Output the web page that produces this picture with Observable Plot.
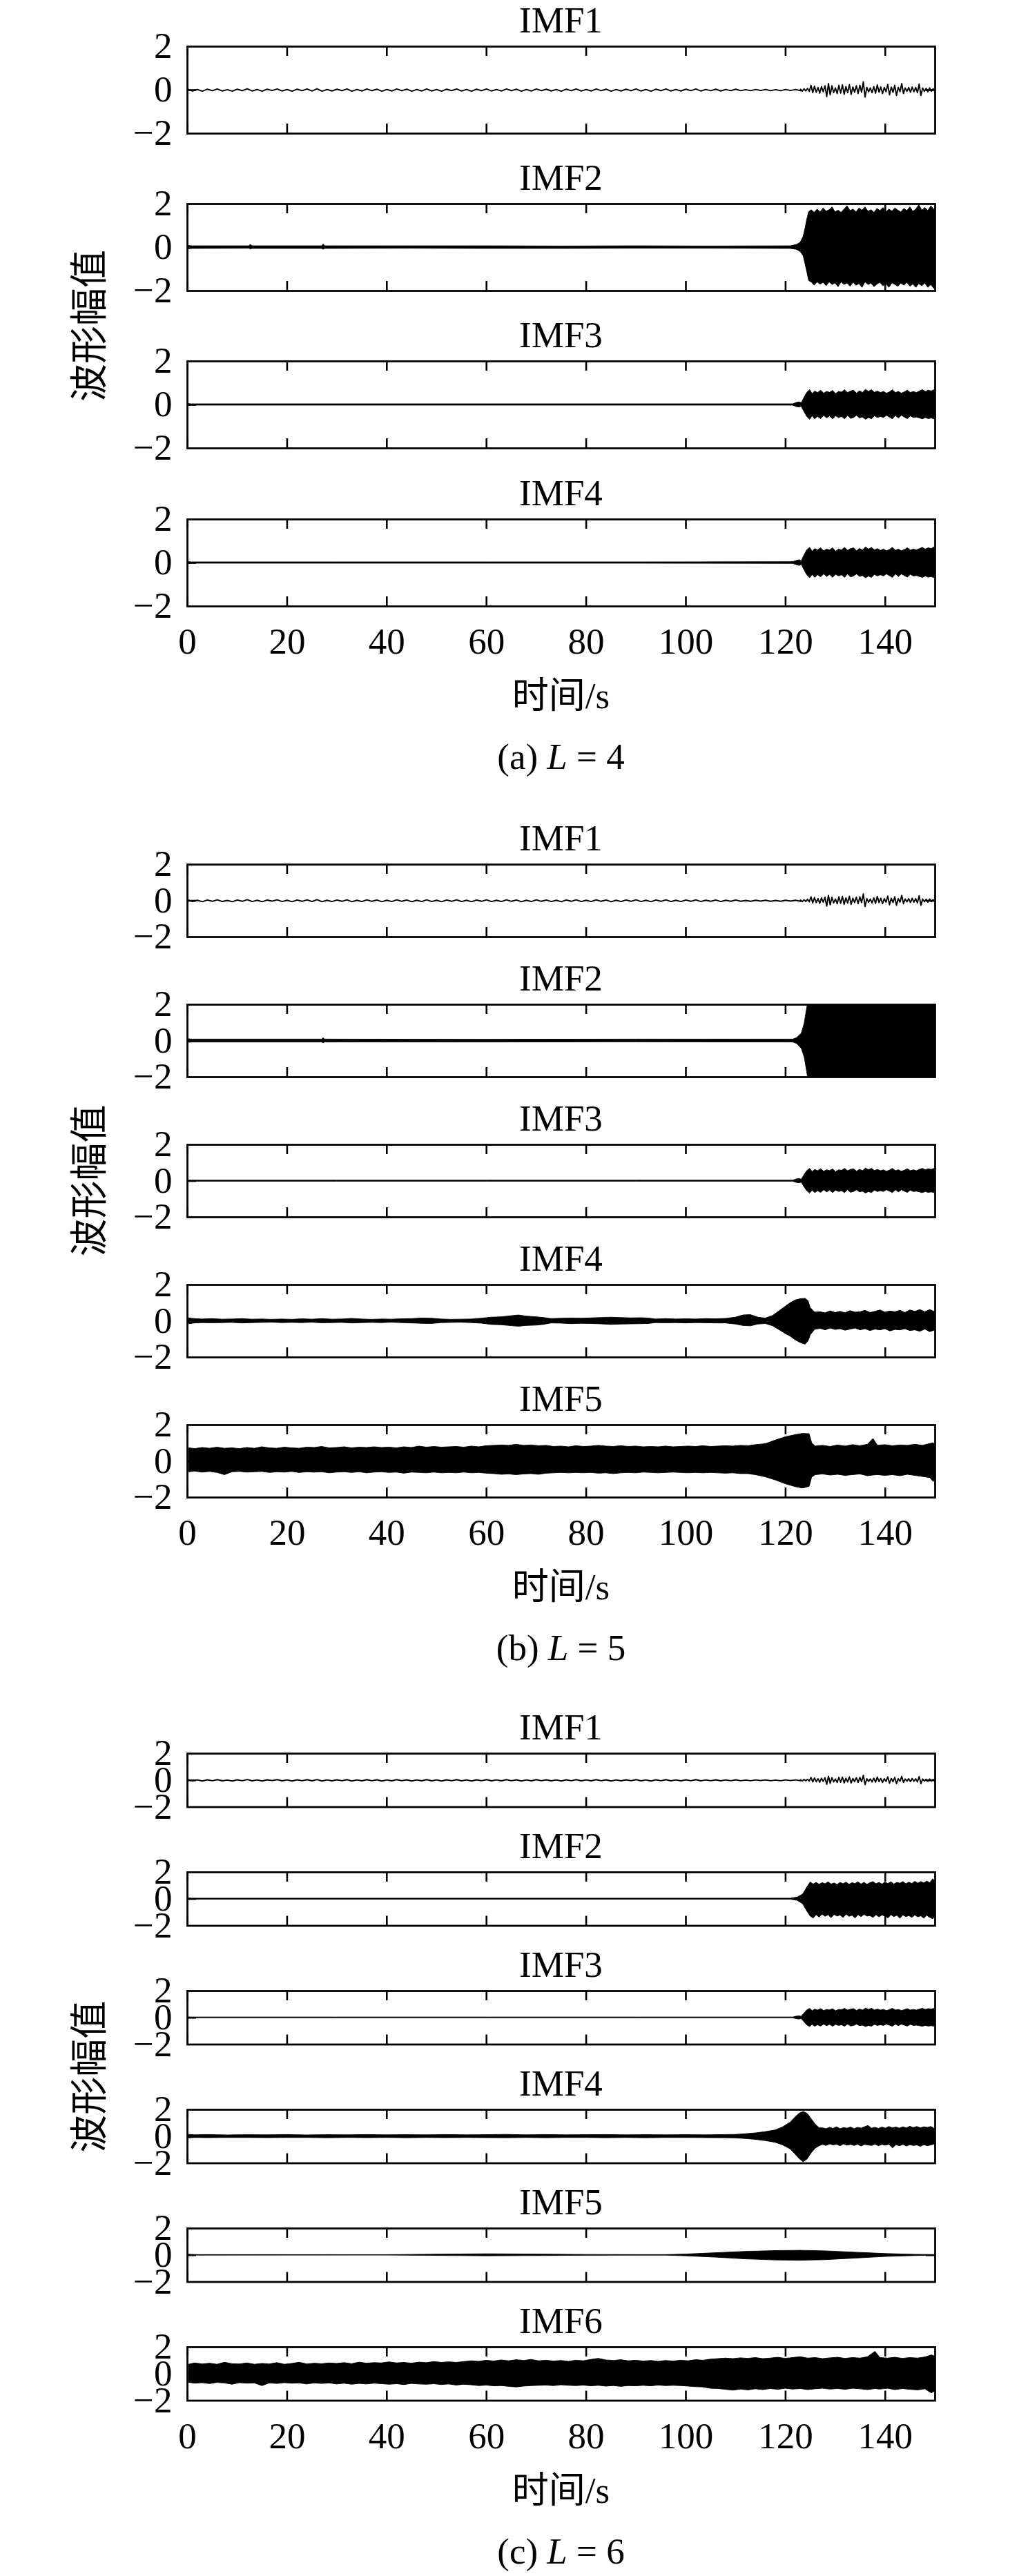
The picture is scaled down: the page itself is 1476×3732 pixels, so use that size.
<!DOCTYPE html>
<html><head><meta charset="utf-8">
<script src="https://cdn.jsdelivr.net/npm/d3@7"></script>
<script src="https://cdn.jsdelivr.net/npm/@observablehq/plot@0.6"></script>
<style>
html,body{margin:0;padding:0;background:#fff;}
#root{position:relative;width:1476px;height:3732px;overflow:hidden;background:#fff;}
#root > svg{position:absolute;left:0;}
</style></head><body><div id="root"></div>
<script>
// ---------------- data ----------------
const xTicks = [0, 20, 40, 60, 80, 100, 120, 140];
const yTicks = [-2, 0, 2];
const xDomain = [0, 150];
const yDomain = [-2, 2];
const captions = [["(a) ", "L", " = 4"], ["(b) ", "L", " = 5"], ["(c) ", "L", " = 6"]];
const yLabel = "波形幅值";
const xLabel = "时间/s";

// IMF1 (same in all three decompositions): quiet part sampled every 1 s from 0 s
const imf1QuietStep = 1, imf1QuietStart = 0;
const imf1Quiet = [0.05,-0.04,0.03,-0.05,0.04,-0.03,0.05,-0.04,0.02,-0.05,0.04,-0.03,0.06,-0.04,0.03,-0.05,0.04,-0.02,0.05,-0.04,
  0.03,-0.05,0.04,-0.03,0.05,-0.04,0.06,-0.05,0.03,-0.04,0.04,-0.03,0.05,-0.05,0.03,-0.04,0.05,-0.03,0.04,-0.05,
  0.03,-0.04,0.05,-0.03,0.04,-0.05,0.03,-0.04,0.05,-0.04,0.03,-0.05,0.04,-0.03,0.05,-0.04,0.03,-0.05,0.04,-0.03,
  0.05,-0.04,0.03,-0.04,0.05,-0.03,0.04,-0.05,0.03,-0.04,0.05,-0.03,0.04,-0.04,0.03,-0.05,0.04,-0.03,0.05,-0.04,
  0.03,-0.04,0.05,-0.03,0.04,-0.05,0.03,-0.04,0.04,-0.03,0.05,-0.04,0.03,-0.05,0.04,-0.03,0.05,-0.04,0.03,-0.04,
  0.04,-0.03,0.05,-0.04,0.03,-0.03,0.04,-0.04,0.03,-0.03,0.04,-0.03,0.02,-0.03,0.03,-0.02,0.03,-0.03,0.02,-0.03,
  0.03,-0.02,0.03,-0.03];
// IMF1 active part sampled every 0.35 s from 123 s
const imf1ActiveStep = 0.35, imf1ActiveStart = 123;
const imf1Active = [0.04,-0.05,0.06,-0.04,0.08,-0.06,0.22,-0.12,0.18,-0.1,0.12,-0.14,0.16,-0.08,0.2,-0.3,0.3,-0.22,0.2,-0.12,
  0.1,-0.16,0.22,-0.14,0.24,-0.2,0.16,-0.12,0.25,-0.2,0.14,-0.1,0.2,-0.16,0.22,-0.1,0.38,-0.32,0.12,-0.08,
  0.1,-0.12,0.16,-0.14,0.24,-0.1,0.14,-0.16,0.12,-0.08,0.26,-0.22,0.14,-0.1,0.22,-0.25,0.12,-0.08,0.3,-0.16,
  0.1,-0.06,0.12,-0.1,0.14,-0.08,0.12,-0.12,0.28,-0.25,0.1,-0.06,0.08,-0.08,0.1,-0.05,0.06,-0.05];

// envelopes [time s, upper, lower]
const aImf2 = [[0,0.08,-0.08],[1,0.06,-0.06],[12.4,0.06,-0.05],[12.7,0.13,-0.09],[13,0.06,-0.06],[27,0.06,-0.06],[27.3,0.14,-0.1],[27.6,0.06,-0.06],
  [45,0.06,-0.05],[60,0.06,-0.06],[75,0.05,-0.06],[90,0.06,-0.05],[105,0.05,-0.05],[121,0.06,-0.06],[122.2,0.12,-0.1],[123,0.22,-0.2],
  [123.6,0.5,-0.4],[124,0.9,-0.8],[124.3,1.26,-1.1],[124.7,1.63,-1.54],[125.2,1.72,-1.6],[125.8,1.6,-1.75],[126.4,1.75,-1.6],[127,1.62,-1.7],
  [127.6,1.8,-1.62],[128.2,1.65,-1.78],[128.8,1.72,-1.6],[129.4,1.85,-1.72],[130,1.62,-1.65],[130.6,1.7,-1.82],[131.2,1.6,-1.6],[131.8,1.75,-1.72],
  [132.4,1.9,-1.65],[133,1.68,-1.8],[133.6,1.75,-1.62],[134.2,1.62,-1.75],[134.8,1.8,-1.68],[135.4,1.7,-1.85],[136,1.85,-1.6],[136.6,1.65,-1.72],
  [137.2,1.72,-1.65],[137.8,1.6,-1.82],[138.4,1.78,-1.7],[139,1.68,-1.62],[139.6,1.82,-1.78],[140.2,1.62,-1.68],[140.8,1.75,-1.85],[141.4,1.66,-1.64],
  [142,1.8,-1.72],[142.6,1.7,-1.8],[143.2,1.62,-1.66],[143.8,1.78,-1.75],[144.4,1.68,-1.62],[145,1.85,-1.8],[145.6,1.65,-1.7],[146.2,1.75,-1.85],
  [146.8,1.95,-1.68],[147.4,1.7,-1.78],[148,1.82,-1.65],[148.6,1.68,-1.85],[149.2,1.9,-1.72],[149.8,1.75,-1.9],[150,1.6,-1.6]];

const imf3Env = [[0,0.05,-0.05],[0.8,0.03,-0.03],[30,0.03,-0.03],[60,0.03,-0.03],[90,0.03,-0.03],[121.5,0.03,-0.03],[122.3,0.1,-0.1],[122.8,0.12,-0.12],
  [123.2,0.08,-0.08],[123.7,0.3,-0.3],[124.3,0.55,-0.55],[124.9,0.68,-0.68],[125.4,0.5,-0.52],[125.9,0.62,-0.66],[126.5,0.55,-0.55],[127.1,0.66,-0.65],
  [127.7,0.52,-0.5],[128.3,0.6,-0.62],[128.9,0.56,-0.52],[129.5,0.65,-0.66],[130.1,0.5,-0.52],[130.7,0.6,-0.6],[131.3,0.57,-0.55],[131.9,0.68,-0.66],
  [132.5,0.55,-0.5],[133.1,0.62,-0.64],[133.7,0.66,-0.6],[134.3,0.52,-0.5],[134.9,0.63,-0.62],[135.5,0.55,-0.58],[136.1,0.7,-0.68],[136.7,0.6,-0.6],
  [137.3,0.68,-0.66],[137.9,0.56,-0.52],[138.5,0.62,-0.6],[139.1,0.55,-0.55],[139.7,0.6,-0.6],[140.3,0.52,-0.5],[140.9,0.58,-0.58],[141.5,0.68,-0.66],
  [142.1,0.55,-0.5],[142.7,0.6,-0.62],[143.3,0.52,-0.5],[143.9,0.58,-0.58],[144.5,0.66,-0.65],[145.1,0.55,-0.52],[145.7,0.6,-0.6],[146.3,0.55,-0.58],
  [146.9,0.62,-0.62],[147.5,0.68,-0.66],[148.1,0.6,-0.6],[148.7,0.66,-0.65],[149.3,0.62,-0.62],[149.8,0.68,-0.66],[150,0.3,-0.3]];

const aImf4 = [[0,0.05,-0.05],[0.8,0.03,-0.03],[30,0.03,-0.03],[60,0.03,-0.03],[90,0.03,-0.03],[121.5,0.04,-0.04],[122.3,0.1,-0.1],[122.8,0.13,-0.13],
  [123.2,0.08,-0.08],[123.7,0.32,-0.3],[124.3,0.58,-0.56],[124.9,0.7,-0.7],[125.4,0.52,-0.55],[125.9,0.64,-0.68],[126.5,0.58,-0.56],[127.1,0.68,-0.66],
  [127.7,0.54,-0.52],[128.3,0.62,-0.64],[128.9,0.58,-0.55],[129.5,0.68,-0.68],[130.1,0.52,-0.54],[130.7,0.62,-0.62],[131.3,0.58,-0.56],[131.9,0.7,-0.68],
  [132.5,0.56,-0.52],[133.1,0.64,-0.66],[133.7,0.68,-0.62],[134.3,0.54,-0.52],[134.9,0.65,-0.64],[135.5,0.57,-0.6],[136.1,0.72,-0.7],[136.7,0.62,-0.62],
  [137.3,0.7,-0.68],[137.9,0.58,-0.54],[138.5,0.64,-0.62],[139.1,0.56,-0.56],[139.7,0.62,-0.62],[140.3,0.54,-0.52],[140.9,0.6,-0.6],[141.5,0.7,-0.68],
  [142.1,0.56,-0.52],[142.7,0.62,-0.64],[143.3,0.54,-0.52],[143.9,0.6,-0.6],[144.5,0.68,-0.67],[145.1,0.57,-0.54],[145.7,0.62,-0.62],[146.3,0.58,-0.6],
  [146.9,0.64,-0.64],[147.5,0.7,-0.68],[148.1,0.62,-0.62],[148.7,0.68,-0.67],[149.3,0.64,-0.64],[149.8,0.72,-0.7],[150,0.4,-0.4]];

const bImf2 = [[0,0.1,-0.1],[1,0.08,-0.08],[27,0.08,-0.08],[27.3,0.15,-0.12],[27.6,0.08,-0.08],[60,0.07,-0.08],[90,0.08,-0.07],[121.5,0.08,-0.08],
  [122.3,0.16,-0.16],[123.2,0.4,-0.42],[123.8,0.95,-0.9],[124.3,1.8,-1.7],[124.7,2.4,-2.4],[150,2.4,-2.4]];

const bImf4 = [[0.3,0.16,-0.16],[1.5,0.12,-0.12],[3,0.1,-0.1],[5,0.12,-0.11],[7,0.09,-0.1],[9,0.1,-0.09],[11,0.12,-0.12],[13,0.09,-0.1],
  [15,0.1,-0.09],[17,0.08,-0.08],[19,0.1,-0.1],[21,0.08,-0.09],[23,0.11,-0.1],[25,0.09,-0.08],[27,0.12,-0.11],[29,0.09,-0.1],[31,0.1,-0.09],
  [33,0.13,-0.12],[35,0.1,-0.1],[37,0.08,-0.09],[39,0.1,-0.1],[41,0.09,-0.08],[43,0.11,-0.1],[45,0.12,-0.12],[47,0.15,-0.14],[49,0.14,-0.15],
  [51,0.1,-0.1],[53,0.08,-0.09],[55,0.09,-0.08],[57,0.1,-0.1],[59,0.14,-0.13],[61,0.2,-0.2],[63,0.22,-0.22],[65,0.28,-0.27],[66.5,0.32,-0.3],
  [68,0.26,-0.26],[70,0.22,-0.24],[71.5,0.18,-0.2],[73,0.12,-0.12],[75,0.14,-0.13],[77,0.15,-0.16],[79,0.14,-0.14],[81,0.16,-0.15],[83,0.18,-0.17],
  [85,0.2,-0.2],[87,0.18,-0.18],[89,0.16,-0.17],[91,0.17,-0.16],[92.5,0.15,-0.15],[94,0.1,-0.1],[96,0.12,-0.11],[98,0.1,-0.1],[100,0.11,-0.12],
  [102,0.1,-0.1],[104,0.12,-0.11],[106,0.11,-0.12],[108,0.13,-0.12],[110,0.2,-0.18],[111.5,0.32,-0.26],[113,0.34,-0.28],[114.5,0.2,-0.18],
  [116,0.15,-0.15],[117.5,0.3,-0.28],[119,0.6,-0.53],[120,0.8,-0.7],[121,1.0,-0.85],[122,1.15,-1.05],[123,1.22,-1.2],[124,1.24,-1.29],
  [124.6,1.1,-1.1],[125,0.73,-0.78],[125.9,0.48,-0.47],[127,0.5,-0.42],[128,0.44,-0.5],[129,0.55,-0.4],[130,0.46,-0.48],[131,0.52,-0.44],
  [132,0.44,-0.52],[133,0.56,-0.46],[134,0.48,-0.4],[135,0.5,-0.5],[136,0.58,-0.44],[137,0.46,-0.54],[138,0.52,-0.46],[139,0.6,-0.5],
  [140,0.48,-0.44],[141,0.54,-0.56],[142,0.5,-0.48],[143,0.58,-0.5],[144,0.46,-0.44],[145,0.6,-0.54],[146,0.52,-0.5],[147,0.62,-0.58],
  [148,0.5,-0.46],[149,0.62,-0.6],[150,0.5,-0.5]];

const bImf5 = [[0.4,0.72,-0.6],[1.5,0.68,-0.56],[3,0.74,-0.62],[4.5,0.7,-0.58],[6,0.76,-0.64],[7.5,0.7,-0.76],[9,0.72,-0.6],[10.5,0.68,-0.58],
  [12,0.74,-0.62],[13.5,0.7,-0.6],[15,0.78,-0.58],[16.5,0.72,-0.64],[18,0.7,-0.6],[19.5,0.76,-0.62],[21,0.72,-0.58],[22.5,0.7,-0.64],
  [24,0.76,-0.6],[25.5,0.74,-0.62],[27,0.8,-0.6],[28.5,0.72,-0.66],[30,0.74,-0.62],[31.5,0.78,-0.6],[33,0.72,-0.64],[34.5,0.76,-0.6],
  [36,0.74,-0.66],[37.5,0.78,-0.62],[39,0.74,-0.6],[40.5,0.76,-0.64],[42,0.72,-0.62],[43.5,0.78,-0.68],[45,0.74,-0.62],[46.5,0.82,-0.64],
  [48,0.76,-0.66],[49.5,0.8,-0.62],[51,0.76,-0.66],[52.5,0.78,-0.64],[54,0.8,-0.66],[55.5,0.76,-0.62],[57,0.82,-0.66],[58.5,0.78,-0.64],
  [60,0.84,-0.68],[61.5,0.86,-0.7],[63,0.88,-0.74],[64.5,0.86,-0.72],[66,0.92,-0.76],[67.5,0.86,-0.72],[69,0.88,-0.7],[70.5,0.84,-0.74],
  [72,0.86,-0.68],[73.5,0.8,-0.66],[75,0.82,-0.64],[76.5,0.78,-0.66],[78,0.84,-0.64],[79.5,0.8,-0.66],[81,0.82,-0.64],[82.5,0.86,-0.68],
  [84,0.82,-0.66],[85.5,0.8,-0.7],[87,0.84,-0.66],[88.5,0.8,-0.64],[90,0.82,-0.66],[91.5,0.78,-0.62],[93,0.8,-0.64],[94.5,0.78,-0.66],
  [96,0.82,-0.64],[97.5,0.78,-0.62],[99,0.8,-0.64],[100.5,0.82,-0.66],[102,0.8,-0.64],[103.5,0.84,-0.66],[105,0.8,-0.64],[106.5,0.82,-0.66],
  [108,0.84,-0.68],[109.5,0.82,-0.66],[111,0.86,-0.7],[112.5,0.84,-0.7],[114,0.9,-0.76],[116,0.95,-0.88],[118,1.15,-1.05],[120,1.33,-1.26],
  [122,1.45,-1.42],[123.5,1.52,-1.5],[124.8,1.5,-1.4],[125.3,1.0,-0.9],[126,0.82,-0.76],[127.5,0.86,-0.72],[129,0.8,-0.78],[130.5,0.88,-0.74],
  [132,0.82,-0.8],[133.5,0.9,-0.76],[135,0.84,-0.72],[136.5,0.92,-0.82],[137.6,1.24,-0.78],[138.5,0.86,-0.76],[140,0.9,-0.8],[141.5,0.84,-0.76],
  [143,0.88,-0.82],[144.5,0.86,-0.74],[146,0.92,-0.8],[147.5,0.86,-0.86],[149,0.96,-0.92],[149.7,1.0,-1.14],[150,0.9,-0.9]];

const cImf2 = [[0,0.06,-0.06],[1,0.04,-0.04],[60,0.04,-0.04],[121,0.04,-0.04],[122.4,0.12,-0.12],[123.5,0.35,-0.38],[124.3,0.85,-0.9],[125,1.25,-1.3],
  [125.6,1.1,-1.45],[126.2,1.22,-1.2],[126.8,1.08,-1.38],[127.4,1.2,-1.15],[128,1.12,-1.32],[128.6,1.26,-1.2],[129.2,1.1,-1.42],[129.8,1.18,-1.18],
  [130.4,1.06,-1.3],[131,1.22,-1.22],[131.6,1.12,-1.4],[132.2,1.24,-1.16],[132.8,1.08,-1.32],[133.4,1.2,-1.24],[134,1.14,-1.44],[134.6,1.26,-1.2],
  [135.2,1.1,-1.34],[135.8,1.22,-1.18],[136.4,1.08,-1.3],[137,1.2,-1.26],[137.6,1.28,-1.4],[138.2,1.12,-1.2],[138.8,1.22,-1.36],[139.4,1.1,-1.22],
  [140,1.24,-1.3],[140.6,1.14,-1.44],[141.2,1.26,-1.2],[141.8,1.1,-1.34],[142.4,1.22,-1.24],[143,1.16,-1.46],[143.6,1.28,-1.22],[144.2,1.12,-1.34],
  [144.8,1.24,-1.26],[145.4,1.14,-1.4],[146,1.3,-1.22],[146.6,1.16,-1.36],[147.2,1.28,-1.28],[147.8,1.18,-1.46],[148.4,1.32,-1.24],[149,1.2,-1.4],
  [149.6,1.5,-1.5],[150,1.3,-1.3]];

const cImf4 = [[0,0.14,-0.14],[1.5,0.1,-0.1],[4,0.12,-0.11],[8,0.09,-0.1],[12,0.11,-0.1],[16,0.1,-0.11],[20,0.12,-0.1],[24,0.09,-0.1],
  [28,0.11,-0.12],[32,0.1,-0.1],[36,0.12,-0.11],[40,0.1,-0.1],[44,0.11,-0.12],[48,0.1,-0.1],[52,0.12,-0.11],[56,0.1,-0.1],[60,0.11,-0.11],
  [64,0.13,-0.12],[68,0.1,-0.1],[72,0.12,-0.12],[76,0.1,-0.1],[80,0.11,-0.1],[84,0.12,-0.12],[88,0.1,-0.1],[92,0.11,-0.12],[96,0.1,-0.1],
  [100,0.11,-0.1],[104,0.1,-0.11],[108,0.12,-0.12],[110,0.13,-0.13],[112,0.18,-0.18],[114,0.24,-0.24],[116,0.34,-0.34],[118,0.46,-0.46],
  [119.5,0.7,-0.66],[121,1.05,-0.96],[122,1.45,-1.35],[122.8,1.72,-1.68],[123.6,1.84,-1.92],[124.4,1.7,-1.7],[125.2,1.3,-1.25],[126,0.9,-0.9],
  [126.8,0.62,-0.72],[127.5,0.62,-0.62],[128.2,0.56,-0.7],[128.9,0.66,-0.58],[129.6,0.58,-0.66],[130.3,0.7,-0.6],[131,0.56,-0.72],[131.7,0.64,-0.58],
  [132.4,0.6,-0.68],[133.1,0.68,-0.62],[133.8,0.56,-0.7],[134.5,0.66,-0.6],[135.2,0.6,-0.74],[135.9,0.7,-0.62],[136.6,0.8,-0.66],[137.3,0.6,-0.7],
  [138,0.66,-0.6],[138.7,0.58,-0.72],[139.4,0.68,-0.62],[140.1,0.6,-0.68],[140.8,0.72,-0.6],[141.5,0.62,-0.88],[142.2,0.68,-0.64],[142.9,0.6,-0.72],
  [143.6,0.7,-0.62],[144.3,0.62,-0.74],[145,0.74,-0.64],[145.7,0.64,-0.7],[146.4,0.72,-0.66],[147.1,0.62,-0.76],[147.8,0.7,-0.64],[148.5,0.66,-0.72],
  [149.2,0.72,-0.66],[149.8,0.6,-0.6],[150,0.5,-0.5]];

const cImf5 = [[0,0.06,-0.06],[1.5,0.02,-0.02],[40,0.015,-0.015],[50,0.05,-0.04],[60,0.08,-0.07],[70,0.06,-0.05],[80,0.03,-0.03],[90,0.02,-0.02],
  [96,0.02,-0.02],[100,0.06,-0.07],[106,0.16,-0.17],[112,0.26,-0.3],[118,0.32,-0.38],[123,0.34,-0.4],[128,0.3,-0.36],[134,0.2,-0.24],
  [140,0.1,-0.12],[146,0.04,-0.05],[150,0.02,-0.02]];

const cImf6 = [[0.3,0.7,-0.65],[1.5,0.8,-0.72],[3,0.72,-0.68],[4.5,0.78,-0.75],[6,0.7,-0.66],[7.5,0.85,-0.7],[9,0.74,-0.8],[10.5,0.72,-0.68],
  [12,0.8,-0.72],[13.5,0.7,-0.7],[15,0.76,-0.9],[16.5,0.72,-0.7],[18,0.82,-0.74],[19.5,0.7,-0.68],[21,0.76,-0.72],[22.5,0.85,-0.7],[24,0.72,-0.78],
  [25.5,0.78,-0.7],[27,0.74,-0.74],[28.5,0.8,-0.7],[30,0.76,-0.78],[31.5,0.82,-0.72],[33,0.74,-0.8],[34.5,0.86,-0.74],[36,0.78,-0.78],
  [37.5,0.82,-0.72],[39,0.8,-0.76],[40.5,0.88,-0.8],[42,0.8,-0.76],[43.5,0.84,-0.82],[45,0.78,-0.74],[46.5,0.86,-0.78],[48,0.82,-0.8],
  [49.5,0.9,-0.76],[51,0.84,-0.82],[52.5,0.88,-0.78],[54,0.84,-0.86],[55.5,0.9,-0.8],[57,0.96,-0.84],[58.5,0.92,-0.9],[60,1.0,-0.86],
  [61.5,0.94,-0.92],[63,1.02,-0.9],[64.5,0.96,-0.96],[66,1.04,-1.0],[67.5,0.98,-0.94],[69,1.06,-0.9],[70.5,0.96,-0.88],[72,1.0,-0.86],
  [73.5,0.94,-0.9],[75,0.98,-0.84],[76.5,0.92,-0.88],[78,1.0,-0.9],[79.5,0.96,-0.86],[81,1.06,-0.92],[82.5,1.14,-0.88],[84,1.02,-0.94],
  [85.5,0.98,-0.9],[87,1.04,-0.96],[88.5,0.96,-0.9],[90,1.0,-0.92],[91.5,0.94,-0.88],[93,0.98,-0.92],[94.5,0.92,-0.86],[96,0.98,-0.9],
  [97.5,0.94,-0.88],[99,1.0,-0.9],[100.5,0.96,-0.94],[102,1.04,-0.98],[103.5,1.0,-1.0],[105,1.08,-1.1],[106.5,1.12,-1.12],[108,1.16,-1.18],
  [109.5,1.12,-1.24],[111,1.18,-1.16],[112.5,1.14,-1.22],[114,1.2,-1.14],[115.5,1.12,-1.2],[117,1.16,-1.12],[118.5,1.22,-1.18],[120,1.14,-1.1],
  [121.5,1.2,-1.16],[123,1.26,-1.12],[124.5,1.16,-1.2],[126,1.2,-1.14],[127.5,1.12,-1.1],[129,1.18,-1.16],[130.5,1.22,-1.12],[132,1.14,-1.18],
  [133.5,1.2,-1.1],[135,1.16,-1.14],[136.5,1.26,-1.2],[138,1.66,-1.12],[139,1.2,-1.16],[140.5,1.16,-1.1],[142,1.22,-1.2],[143.5,1.14,-1.12],
  [145,1.2,-1.18],[146.5,1.16,-1.22],[148,1.24,-1.14],[149.3,1.4,-1.44],[150,1.3,-1.3]];

// ---------------- layout ----------------
const W = 1476, X0 = 271, X1 = 1354;
const FONT = '"Liberation Serif","Times New Roman","Noto Sans CJK SC",serif';
const FS = 53;
const root = document.getElementById("root");

const imf1 = [
  ...imf1Quiet.map((v, i) => ({t: imf1QuietStart + i * imf1QuietStep, v})),
  ...imf1Active.map((v, i) => ({t: imf1ActiveStart + i * imf1ActiveStep, v}))
];
const env = arr => arr.map(([t, hi, lo]) => ({t, hi, lo}));

const groups = [
  {tops: [66.5, 295, 523.3, 751.5], h: 126, series: [null, aImf2, imf3Env, aImf4]},
  {tops: [1252, 1455, 1658, 1861, 2064], h: 105, series: [null, bImf2, imf3Env, bImf4, bImf5]},
  {tops: [2540, 2712, 2884, 3056, 3228, 3400], h: 77.5, series: [null, cImf2, imf3Env, cImf4, cImf5, cImf6]}
];

const minus = d => d < 0 ? "\u2212" + Math.abs(d) : String(d);

function panel(top, h, series, showX) {
  const mt = 40, mb = showX ? 90 : 40;
  const fw = X1 - X0;
  const marks = [];
  if (series) marks.push(Plot.areaY(env(series), {x: "t", y1: "lo", y2: "hi", fill: "black", stroke: "black", strokeWidth: 0.9, clip: true}));
  else marks.push(Plot.line(imf1, {x: "t", y: "v", stroke: "black", strokeWidth: 1.9, clip: true}));
  marks.push(Plot.ruleX(xTicks, {x: d => d, insetBottom: h - 14, stroke: "black", strokeWidth: 2.6}));
  marks.push(Plot.ruleX(xTicks, {x: d => d, insetTop: h - 14, stroke: "black", strokeWidth: 2.6}));
  marks.push(Plot.ruleY([0], {y: d => d, insetRight: fw - 13, stroke: "black", strokeWidth: 2.6}));
  marks.push(Plot.ruleY([0], {y: d => d, insetLeft: fw - 13, stroke: "black", strokeWidth: 2.6}));
  marks.push(Plot.frame({stroke: "black", strokeWidth: 2.8}));
  marks.push(Plot.axisY(yTicks, {tickSize: 0, tickPadding: 22, tickFormat: minus, fontSize: FS, label: null}));
  if (showX) marks.push(Plot.axisX(xTicks, {tickSize: 0, tickPadding: 31, tickFormat: minus, fontSize: FS, label: null}));
  const svg = Plot.plot({
    width: W, height: h + mt + mb,
    marginLeft: X0, marginRight: W - X1, marginTop: mt, marginBottom: mb,
    x: {domain: xDomain, axis: showX ? undefined : null},
    y: {domain: yDomain},
    style: {fontFamily: FONT, fontSize: FS + "px", color: "black", background: "transparent", overflow: "visible", maxWidth: "none"},
    marks
  });
  svg.style.top = (top - mt) + "px";
  svg.style.position = "absolute";
  root.appendChild(svg);
}

// text overlay
const overlay = d3.create("svg").attr("width", W).attr("height", 3732)
  .style("position", "absolute").style("top", "0px").style("left", "0px")
  .attr("font-family", FONT).attr("font-size", FS).attr("fill", "black");
const cx = (X0 + X1) / 2;

groups.forEach((g, gi) => {
  g.tops.forEach((top, i) => {
    const last = i === g.tops.length - 1;
    panel(top, g.h, g.series[i], last);
    overlay.append("text").attr("x", cx).attr("y", top - 20).attr("text-anchor", "middle").text("IMF" + (i + 1));
  });
  const first = g.tops[0], bottom = g.tops[g.tops.length - 1] + g.h;
  const yc = (first + bottom) / 2;
  overlay.append("text").attr("transform", `translate(148,${yc}) rotate(-90)`).attr("text-anchor", "middle")
    .attr("font-size", 55).text(yLabel);
  overlay.append("text").attr("x", cx).attr("y", bottom + 148).attr("text-anchor", "middle").text(xLabel);
  const cap = overlay.append("text").attr("x", cx).attr("y", bottom + 236).attr("text-anchor", "middle");
  cap.append("tspan").text(captions[gi][0]);
  cap.append("tspan").attr("font-style", "italic").text(captions[gi][1]);
  cap.append("tspan").text(captions[gi][2]);
});
root.appendChild(overlay.node());
</script>
</body></html>
